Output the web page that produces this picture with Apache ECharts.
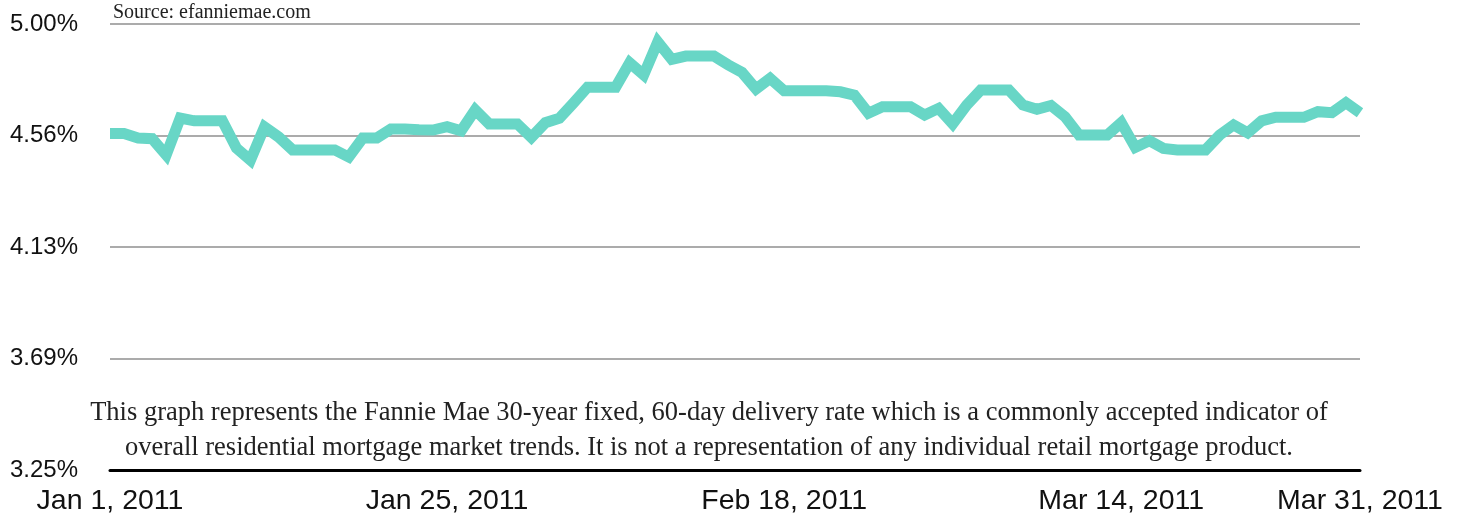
<!DOCTYPE html>
<html>
<head>
<meta charset="utf-8">
<title>Fannie Mae 30-year fixed rate, Q1 2011</title>
<script src="https://cdn.jsdelivr.net/npm/echarts@6/dist/echarts.min.js"></script>
<style>
  html, body { margin: 0; padding: 0; background: #fff; }
  #chart { width: 1460px; height: 520px; }
</style>
</head>
<body>
<div id="chart"></div>
<script>
  // daily rate, Jan 1 .. Mar 31 2011 (weekends carry Friday's value)
  var rates = [
    4.570, 4.570, 4.553, 4.550, 4.486, 4.631, 4.620, 4.620, 4.620, 4.513,
    4.466, 4.596, 4.557, 4.506, 4.506, 4.506, 4.506, 4.478, 4.553, 4.553,
    4.588, 4.588, 4.585, 4.584, 4.597, 4.581, 4.663, 4.608, 4.608, 4.608,
    4.555, 4.613, 4.630, 4.690, 4.752, 4.752, 4.752, 4.848, 4.800, 4.930,
    4.861, 4.874, 4.874, 4.874, 4.840, 4.810, 4.745, 4.787, 4.738, 4.738,
    4.738, 4.738, 4.734, 4.721, 4.650, 4.675, 4.675, 4.675, 4.643, 4.669,
    4.608, 4.682, 4.741, 4.741, 4.741, 4.682, 4.665, 4.680, 4.636, 4.564,
    4.564, 4.564, 4.613, 4.516, 4.542, 4.512, 4.506, 4.506, 4.506, 4.564,
    4.604, 4.573, 4.620, 4.634, 4.634, 4.634, 4.656, 4.652, 4.691, 4.652
  ];
  var tickLabels = ['Jan 1, 2011', 'Jan 25, 2011', 'Feb 18, 2011', 'Mar 14, 2011', 'Mar 31, 2011'];
  var yMin = 3.25, yMax = 5.00, yStep = 0.4375;   // ticks 3.25 / 3.69 / 4.13 / 4.56 / 5.00

  var months = ['Jan', 'Feb', 'Mar'];
  var monthDays = [31, 28, 31];
  var days = [];
  for (var m = 0; m < 3; m++) {
    for (var d = 1; d <= monthDays[m]; d++) days.push(months[m] + ' ' + d + ', 2011');
  }

  var myChart = echarts.init(document.getElementById('chart'));
  myChart.setOption({
    animation: false,
    grid: { left: 110, right: 100, top: 24, bottom: 50 },
    xAxis: {
      type: 'category',
      data: days,
      boundaryGap: false,
      axisLine: { show: true, lineStyle: { color: '#000', width: 3 } },
      axisTick: { show: false },
      splitLine: { show: false },
      axisLabel: {
        interval: function (i, v) { return tickLabels.indexOf(v) > -1; },
        margin: 17,
        fontSize: 28.5,
        fontFamily: '"Liberation Sans", Arial, sans-serif',
        color: '#111'
      }
    },
    yAxis: {
      type: 'value',
      // axis runs from 0 so the tick step lines up; labels add the base back
      min: 0,
      max: yMax - yMin,
      interval: yStep,
      axisLine: { show: false },
      axisTick: { show: false },
      splitLine: { show: true, lineStyle: { color: '#ababab', width: 2 } },
      axisLabel: {
        margin: 32,
        fontSize: 24,
        fontFamily: '"Liberation Sans", Arial, sans-serif',
        color: '#111',
        lineHeight: 30,
        padding: [6, 0, 0, 0],
        formatter: function (v) { return (v + yMin).toFixed(2) + '%'; }
      }
    },
    series: [{
      type: 'line',
      data: rates.map(function (r) { return r - yMin; }),
      symbol: 'none',
      smooth: false,
      lineStyle: { color: '#68d6c6', width: 11, join: 'miter', cap: 'butt' }
    }],
    graphic: [
      {
        type: 'text', left: 113, top: 3,
        style: { text: 'Source: efanniemae.com', font: '20px "Liberation Serif", serif', fill: '#222' }
      },
      {
        type: 'text', x: 709, y: 413,
        style: {
          text: 'This graph represents the Fannie Mae 30-year fixed, 60-day delivery rate which is a commonly accepted indicator of',
          font: '26.5px "Liberation Serif", serif', fill: '#222', textAlign: 'center', textVerticalAlign: 'middle'
        }
      },
      {
        type: 'text', x: 709, y: 448,
        style: {
          text: 'overall residential mortgage market trends. It is not a representation of any individual retail mortgage product.',
          font: '26.5px "Liberation Serif", serif', fill: '#222', textAlign: 'center', textVerticalAlign: 'middle'
        }
      }
    ]
  });
  window.onresize = myChart.resize;
</script>
</body>
</html>
